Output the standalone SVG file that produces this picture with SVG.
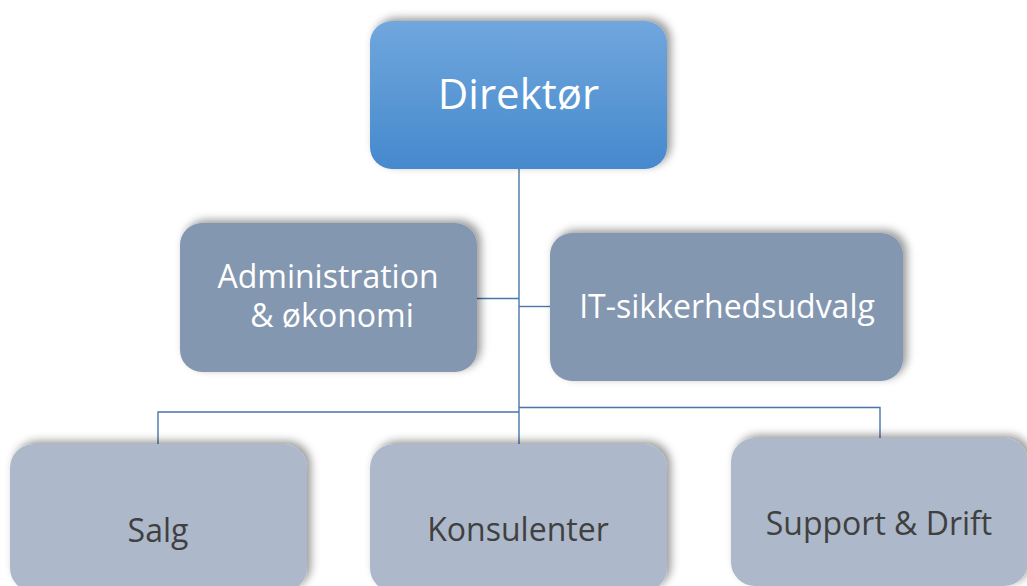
<svg xmlns="http://www.w3.org/2000/svg" width="1027" height="586" viewBox="0 0 1027 586">
<defs>
<linearGradient id="gTop" x1="0" y1="0" x2="0" y2="1">
<stop offset="0" stop-color="#70a7dd"/>
<stop offset="1" stop-color="#4689cd"/>
</linearGradient>
<filter id="sh" x="-10%" y="-15%" width="125%" height="130%">
<feDropShadow dx="4" dy="-3" stdDeviation="4" flood-color="#000" flood-opacity="0.4"/>
</filter>
<style>
.conn{fill:none;stroke:#4a76a8;stroke-width:1.4}
.box{filter:url(#sh)}
.mid{fill:#8497b0}
.low{fill:#adb9ca}
text{font-family:"Open Sans","Liberation Sans",sans-serif;text-anchor:middle}
.wt{fill:#ffffff;font-size:32px}
.dk{fill:#404040;font-size:32px}
</style>
</defs>
<rect width="1027" height="586" fill="#ffffff"/>
<g id="connectors">
<path class="conn" d="M519,169 V444"/>
<path class="conn" d="M477,298.5 H519"/>
<path class="conn" d="M519,306.5 H550"/>
<path class="conn" d="M158,444 V412 H519"/>
<path class="conn" d="M519,407.5 H880 V438"/>
</g>
<g id="n-direktor">
<rect class="box" x="370" y="21" width="297" height="148" rx="22" fill="url(#gTop)"/>
<text x="518.5" y="109" fill="#ffffff" font-size="42">Direktør</text>
</g>
<g id="n-admin">
<rect class="box mid" x="180" y="223" width="297" height="149" rx="22"/>
<text class="wt" x="328" y="288">Administration</text>
<text class="wt" x="332" y="327">&amp; økonomi</text>
</g>
<g id="n-it">
<rect class="box mid" x="550" y="233" width="353" height="148" rx="22"/>
<text class="wt" x="727" y="318">IT-sikkerhedsudvalg</text>
</g>
<g id="n-salg">
<rect class="box low" x="10" y="444" width="297" height="148" rx="24"/>
<text class="dk" x="158" y="542">Salg</text>
</g>
<g id="n-konsulenter">
<rect class="box low" x="370" y="444" width="297" height="148" rx="24"/>
<text class="dk" x="518" y="541">Konsulenter</text>
</g>
<g id="n-support">
<rect class="box low" x="731" y="438" width="297" height="148" rx="24"/>
<text class="dk" x="879" y="535">Support &amp; Drift</text>
</g>
</svg>
